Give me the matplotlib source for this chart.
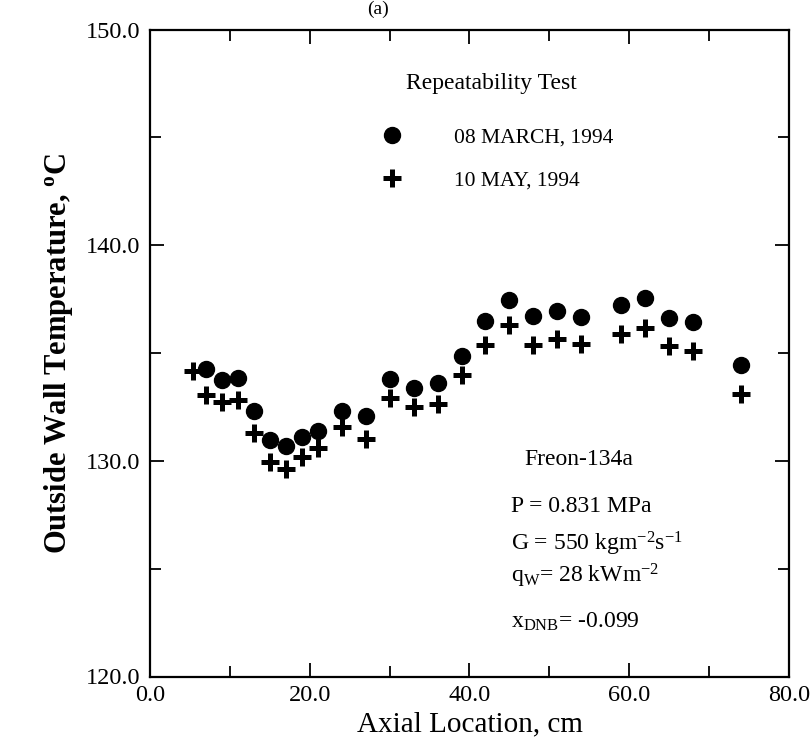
import matplotlib
matplotlib.use("Agg")
import matplotlib.pyplot as plt
from matplotlib.ticker import MultipleLocator

plt.rcParams['font.family'] = ['Liberation Serif', 'DejaVu Serif']
plt.rcParams['mathtext.fontset'] = 'custom'
plt.rcParams['mathtext.rm'] = 'Liberation Serif'
plt.rcParams['mathtext.it'] = 'Liberation Serif:italic'
plt.rcParams['mathtext.bf'] = 'Liberation Serif:bold'

# ---- data ----
x_march = [7, 9, 11, 13, 15, 17, 19, 21, 24, 27, 30, 33, 36, 39, 42, 45, 48, 51, 54, 59, 62, 65, 68, 74]
t_march = [134.28, 133.73, 133.84, 132.32, 130.96, 130.67, 131.11, 131.38, 132.30, 132.07,
           133.78, 133.36, 133.62, 134.85, 136.48, 137.45, 136.70, 136.95, 136.69, 137.22,
           137.53, 136.62, 136.43, 134.45]
x_may = [5.4, 7, 9, 11, 13, 15, 17, 19, 21, 24, 27, 30, 33, 36, 39, 42, 45, 48, 51, 54, 59, 62, 65, 68, 74]
t_may = [134.17, 133.07, 132.74, 132.84, 131.29, 129.96, 129.61, 130.18, 130.58, 131.55, 130.99,
         132.92, 132.51, 132.64, 133.96, 135.37, 136.31, 135.39, 135.64, 135.42, 135.90,
         136.15, 135.34, 135.08, 133.08]
label_march = "08 MARCH, 1994"
label_may = "10 MAY, 1994"
xticks = [0, 20, 40, 60, 80]
yticks = [120, 130, 140, 150]

W, H = 812, 747
fig = plt.figure(figsize=(W / 100, H / 100), dpi=100)
ax = fig.add_axes([150 / W, 1 - 676.5 / H, (789 - 150) / W, (676.5 - 29.5) / H])

ax.plot(x_march, t_march, linestyle='none', marker='o', ms=11.5, color='black', label=label_march)
ax.plot(x_may, t_may, linestyle='none', marker='+', ms=13.5, mew=3.6, color='black', label=label_may)

ax.set_xlim(0, 80)
ax.set_ylim(120, 150)
ax.set_xticks(xticks)
ax.set_yticks(yticks)
ax.set_xticklabels([f"{v:.1f}" for v in xticks])
ax.set_yticklabels([f"{v:.1f}" for v in yticks])
ax.xaxis.set_minor_locator(MultipleLocator(10))
ax.yaxis.set_minor_locator(MultipleLocator(5))
ax.tick_params(which='both', direction='in', top=True, right=True, width=1.3, color='black')
ax.tick_params(which='major', length=10)
ax.tick_params(which='minor', length=8)
ax.tick_params(axis='x', which='major', labelsize=17.5, pad=6)
ax.tick_params(axis='y', which='major', labelsize=17.5, pad=7)
for s in ax.spines.values():
    s.set_linewidth(1.6)

ax.set_xlabel("Axial Location, cm", fontsize=21, labelpad=4)
ax.set_ylabel(r"Outside Wall Temperature, $^{\mathbf{o}}$C", fontsize=22, fontweight='bold', labelpad=8)

leg = ax.legend(loc='upper left', bbox_to_anchor=(370 / W, 1 - 73 / H), bbox_transform=fig.transFigure,
                frameon=False, fontsize=15.5, title="Repeatability Test", title_fontsize=17,
                handletextpad=1.9, labelspacing=1.05, borderpad=0, borderaxespad=0, handlelength=2.0,
                markerscale=1.0)
leg._legend_box.sep = 24

def ftext(px, py, s, **kw):
    fig.text(px / W, 1 - py / H, s, va='baseline', ha='left', **kw)

ftext(524, 465, "Freon-134a", fontsize=17)
ftext(511, 512, "P = 0.831 MPa", fontsize=17)
ftext(511, 551, r"G = 550 kgm$^{-2}$s$^{-1}$", fontsize=17)
ftext(511, 583, r"q$_{\rm W}$= 28 kWm$^{-2}$", fontsize=17)
ftext(511, 628, r"x$_{\rm DNB}$= -0.099", fontsize=17)

fig.text(378 / W, 1 - 1 / H, "(a)", ha='center', va='top', fontsize=14)

fig.savefig("out.png", dpi=100)
